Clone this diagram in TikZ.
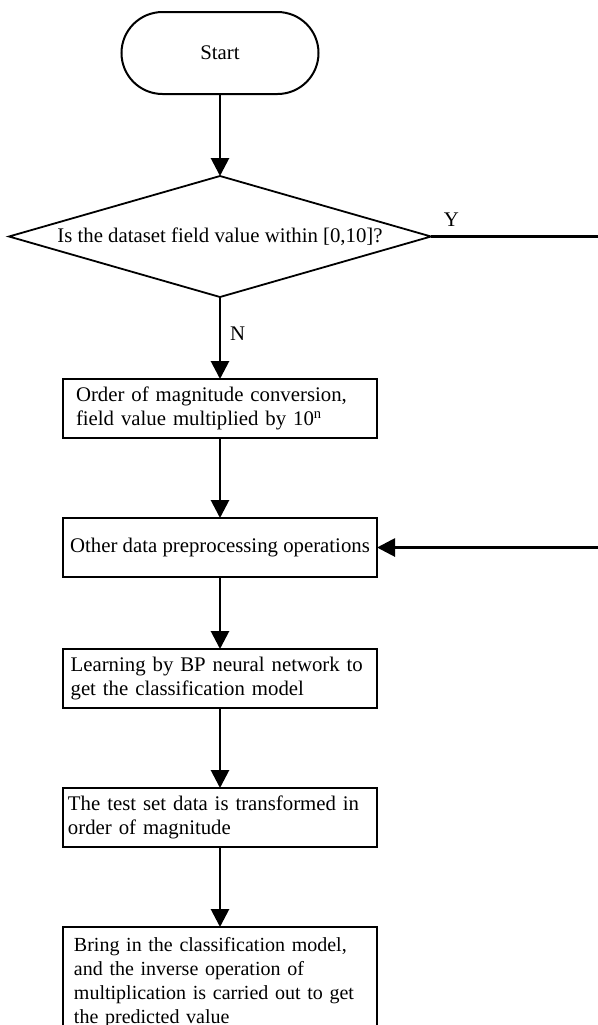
\documentclass[tikz,border=0pt]{standalone}
\usepackage{fontspec}
\setmainfont{Liberation Serif}
\usetikzlibrary{arrows.meta,positioning,shapes.geometric}

\begin{document}
\begin{tikzpicture}[
  x=0.5pt,y=-0.5pt,
  every node/.style={font=\fontsize{10.4}{12.2}\selectfont,outer sep=0pt},
  term/.style={draw,line width=1pt,rectangle,rounded corners=20.5pt,minimum width=98.5pt,minimum height=41pt},
  dec/.style={draw,line width=0.9pt,diamond,aspect=3.49,inner sep=0pt,minimum width=211pt,minimum height=60.5pt},
  proc/.style={draw,line width=1.4pt,rectangle,minimum width=157pt,minimum height=29.5pt,align=left},
  lbl/.style={inner sep=0pt},
  flow/.style={line width=1.4pt,-{Triangle[length=9pt,width=9pt]}},
  node distance=40pt]
\useasboundingbox (0,0) rectangle (598,1025);
\coordinate (edge) at (600,0);
\node[term] (start) at (220,53) {Start};
\node[dec,below=41pt of start] (check) {Is the dataset field value within [0,10]?};
\node[proc,below=41pt of check,inner xsep=6.5pt,text width=144pt] (conv)
  {Order of magnitude conversion,\\field value multiplied by 10\textsuperscript{n}};
\node[proc,below=of conv,inner xsep=2pt,align=center] (prep) {Other data preprocessing operations};
\node[proc,below=36pt of prep,inner xsep=3.8pt,text width=149.4pt] (learn)
  {Learning by BP neural network to\\get the classification model};
\node[proc,below=of learn,inner xsep=2.5pt,text width=152pt] (test)
  {The test set data is transformed in\\order of magnitude};
\node[proc,below=of test,inner xsep=5.5pt,inner ysep=5pt,text width=146pt,
  font=\fontsize{10}{12}\selectfont] (pred)
  {Bring in the classification model,\\and the inverse operation of\\multiplication is carried out to get\\the predicted value};
\draw[flow] (start) -- (check);
\draw[flow] (check) -- node[lbl,pos=0.45,right=5pt] {N} (conv);
\draw[flow] (check.east) -- node[lbl,pos=0.12,above=5pt] {Y} (check.east -| edge) |- (prep.east);
\draw[flow] (conv) -- (prep);
\draw[flow] (prep) -- (learn);
\draw[flow] (learn) -- (test);
\draw[flow] (test) -- (pred);
\end{tikzpicture}
\end{document}
